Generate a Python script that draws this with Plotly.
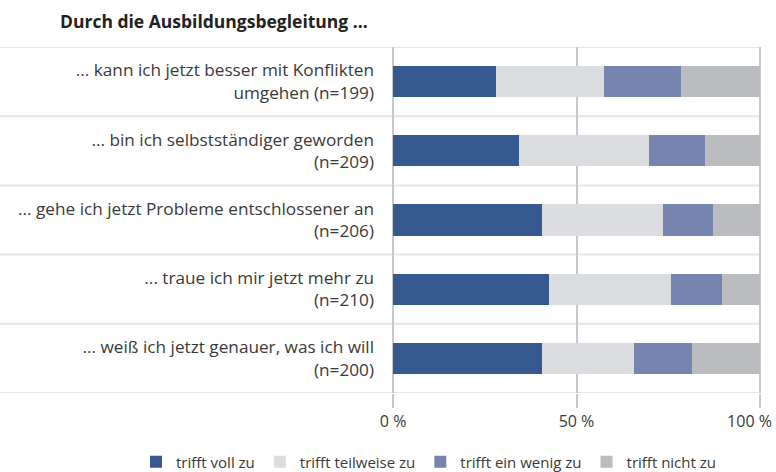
import plotly.graph_objects as go

categories = [
    "... kann ich jetzt besser mit Konflikten<br>umgehen (n=199)",
    "... bin ich selbstständiger geworden<br>(n=209)",
    "... gehe ich jetzt Probleme entschlossener an<br>(n=206)",
    "... traue ich mir jetzt mehr zu<br>(n=210)",
    "... weiß ich jetzt genauer, was ich will<br>(n=200)",
]
series_names = ["trifft voll zu", "trifft teilweise zu", "trifft ein wenig zu", "trifft nicht zu"]
voll = [28.1, 34.3, 40.6, 42.5, 40.6]
teilweise = [29.4, 35.5, 33.0, 33.2, 25.1]
wenig = [21.0, 15.2, 13.6, 13.9, 15.8]
nicht = [21.5, 15.0, 12.8, 10.4, 18.5]
x_tickvals = [0, 50, 100]
x_ticktext = ["0 %", "50 %", "100 %"]
colors = ["#365a8f", "#dcdde0", "#7784b0", "#bbbcc0"]
title_text = "Durch die Ausbildungsbegleitung ..."

FONT = "Open Sans"
W, H = 776, 472
ML, MR, MT, MB = 392, 15, 47, 79
PW, PH = W - ML - MR, H - MT - MB

# keep the last tick label inside the page (as in the reference)
tick_labels = x_ticktext[:-1] + [x_ticktext[-1] + "\u00a0" * 5]

fig = go.Figure()
ypos = list(range(len(categories)))
for name, vals, col in zip(series_names, [voll, teilweise, wenig, nicht], colors):
    fig.add_trace(go.Bar(
        y=ypos, x=vals, name=name, orientation="h",
        marker=dict(color=col, line=dict(width=0)),
        hoverinfo="x+name",
    ))

# separators between categories, extending into label area
for i in range(len(categories) + 1):
    fig.add_shape(type="line", xref="paper", yref="y",
                  x0=-ML / PW, x1=1.0, y0=i - 0.5, y1=i - 0.5,
                  line=dict(color="#e6e6e8", width=2), layer="below")

fig.update_layout(
    width=W, height=H,
    margin=dict(l=ML, r=MR, t=MT, b=MB, autoexpand=False),
    paper_bgcolor="white", plot_bgcolor="white",
    barmode="stack", bargap=0.55,
    font=dict(family=FONT, size=17, color="#2b2b2b"),
    title=dict(text="<b>" + title_text + "</b>", x=60 / W, xanchor="left",
               xref="container", y=1 - 22 / H, yanchor="middle", yref="container",
               pad=dict(l=0, r=0, t=0, b=0),
               font=dict(size=17.5, color="#222222", family=FONT)),
    xaxis=dict(range=[-0.3, 100.3], tickvals=x_tickvals, ticktext=tick_labels,
               showgrid=True, gridcolor="#c8c8cc", gridwidth=2,
               zeroline=False, showline=False, automargin=False,
               ticklabeloverflow="allow",
               ticks="outside", ticklen=14, tickcolor="#c8c8cc", tickwidth=2,
               tickfont=dict(size=16, color="#3a3a3a")),
    yaxis=dict(range=[len(categories) - 0.5, -0.5], tickvals=ypos, ticktext=categories,
               showgrid=False, zeroline=False, showline=False, ticks="",
               automargin=False, ticklabelstandoff=17,
               tickfont=dict(size=17.2, color="#3a3a3a")),
    legend=dict(orientation="h", x=(136 - ML) / PW, xanchor="left", xref="paper",
                y=(MT + PH - 462) / PH, yanchor="middle", yref="paper",
                itemwidth=30, tracegroupgap=0,
                font=dict(size=15, color="#3a3a3a"), traceorder="normal"),
    showlegend=True,
)

fig.write_html("out.html", config={"displayModeBar": False},
               post_script="document.body.style.margin='0px';")
